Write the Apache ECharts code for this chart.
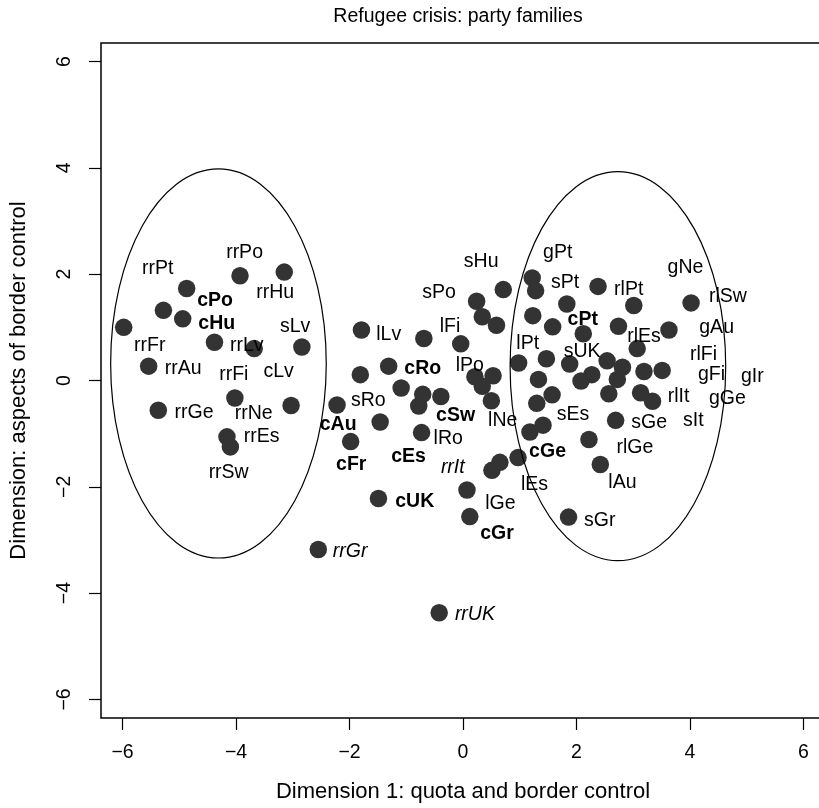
<!DOCTYPE html>
<html>
<head>
<meta charset="utf-8">
<title>Refugee crisis: party families</title>
<script src="https://cdn.jsdelivr.net/npm/echarts@6/dist/echarts.min.js"></script>
<style>
  html, body { margin: 0; padding: 0; background: #ffffff; overflow: hidden; }
  /* the plot box runs slightly past the right edge of the page */
  #chart { width: 840px; height: 808px; }
</style>
</head>
<body>
<div id="chart"></div>
<script>
// Party positions on the two scaling dimensions
const pointX = [
  -3.93, -3.15, -4.87, -5.28, -4.94, -5.98, -4.38, -3.68, -2.84, -5.54,
  -4.02, -3.03, -5.37, -4.16, -4.10,
   0.71,  0.24,  0.34,  0.59, -1.79, -0.69, -0.04, -1.31, -1.81,  0.98,
   0.21,  0.53,  0.34, -1.09, -0.71, -0.39, -0.78,  0.50, -2.22, -1.46,
  -0.73, -1.98,  0.97,  0.65,  0.51, -1.49,  0.07,  0.12, -2.55, -0.42,
   1.22,  1.28,  2.38,  1.83,  3.01,  4.02,  1.23,  1.58,  2.12,  2.74,
   3.63,  3.07,  1.47,  1.88,  2.54,  2.81,  3.19,  3.51,  2.27,  2.08,
   2.72,  1.33,  1.57,  1.30,  2.57,  3.13,  3.34,  2.69,  1.41,  1.18,
   2.22,  2.42,  1.86
];
const pointY = [
   1.97,  2.04,  1.73,  1.32,  1.16,  1.00,  0.72,  0.60,  0.63,  0.27,
  -0.33, -0.47, -0.56, -1.06, -1.25,
   1.71,  1.49,  1.20,  1.04,  0.95,  0.79,  0.69,  0.27,  0.11,  0.33,
   0.07,  0.09, -0.11, -0.14, -0.26, -0.30, -0.48, -0.38, -0.46, -0.78,
  -0.98, -1.15, -1.45, -1.54, -1.69, -2.22, -2.06, -2.56, -3.18, -4.37,
   1.93,  1.69,  1.77,  1.44,  1.41,  1.46,  1.22,  1.01,  0.88,  1.02,
   0.95,  0.60,  0.41,  0.31,  0.37,  0.25,  0.17,  0.19,  0.11, -0.01,
   0.02,  0.02, -0.27, -0.43, -0.25, -0.23, -0.39, -0.75, -0.84, -0.97,
  -1.11, -1.58, -2.57
];

// Party labels (name, position, typeface)
const labelNames = [
  'rrPt', 'rrPo', 'rrHu', 'cPo', 'cHu', 'sLv', 'rrFr', 'rrLv', 'rrAu', 'rrFi',
  'cLv', 'rrGe', 'rrNe', 'rrEs', 'rrSw',
  'sHu', 'sPo', 'lLv', 'lFi', 'lPo', 'cRo', 'sRo', 'cSw', 'lNe', 'cAu',
  'lRo', 'cFr', 'cEs', 'rrIt', 'cUK', 'lGe', 'cGr', 'rrGr', 'rrUK', 'lEs',
  'cGe',
  'gPt', 'sPt', 'rlPt', 'gNe', 'rlSw', 'gAu', 'rlFi', 'gFi', 'gIr', 'gGe',
  'sIt', 'rlIt', 'cPt', 'rlEs', 'lPt', 'sUK', 'sEs', 'sGe', 'rlGe', 'lAu',
  'sGr'
];
const labelX = [
  -5.38, -3.85, -3.31, -4.37, -4.34, -2.96, -5.52, -3.81, -4.93, -4.04,
  -3.25, -4.74, -3.69, -3.55, -4.13,
   0.32, -0.42, -1.31, -0.23,  0.12, -0.71, -1.67, -0.13,  0.70, -2.20,
  -0.26, -1.97, -0.96, -0.18, -0.85,  0.66,  0.60, -1.99,  0.21,  1.26,
   1.49,
   1.67,  1.80,  2.92,  3.92,  4.67,  4.47,  4.24,  4.38,  5.10,  4.66,
   4.06,  3.80,  2.11,  3.19,  1.14,  2.10,  1.94,  3.28,  3.03,  2.81,
   2.41
];
const labelY = [
   2.10,  2.41,  1.65,  1.51,  1.07,  1.01,  0.65,  0.66,  0.22,  0.11,
   0.16, -0.61, -0.63, -1.05, -1.74,
   2.24,  1.65,  0.87,  1.01,  0.28,  0.22, -0.38, -0.66, -0.75, -0.83,
  -1.09, -1.59, -1.44, -1.64, -2.27, -2.31, -2.88, -3.22, -4.41, -1.95,
  -1.33,
   2.41,  1.84,  1.71,  2.12,  1.57,  1.00,  0.48,  0.11,  0.07, -0.34,
  -0.75, -0.30,  1.14,  0.83,  0.69,  0.54, -0.65, -0.79, -1.27, -1.92,
  -2.63
];
const labelFace = [
  'plain', 'plain', 'plain', 'bold', 'bold', 'plain', 'plain', 'plain', 'plain', 'plain',
  'plain', 'plain', 'plain', 'plain', 'plain',
  'plain', 'plain', 'plain', 'plain', 'plain', 'bold', 'plain', 'bold', 'plain', 'bold',
  'plain', 'bold', 'bold', 'italic', 'bold', 'plain', 'bold', 'italic', 'italic', 'plain',
  'bold',
  'plain', 'plain', 'plain', 'plain', 'plain', 'plain', 'plain', 'plain', 'plain', 'plain',
  'plain', 'plain', 'bold', 'plain', 'plain', 'plain', 'plain', 'plain', 'plain', 'plain',
  'plain'
];

// Two group outlines: centre and half-axes in data units
const ellipseCX = [-4.31, 2.73];
const ellipseCY = [0.32, 0.27];
const ellipseRX = [1.90, 1.90];
const ellipseRY = [3.66, 3.66];

const tickValues = [-6, -4, -2, 0, 2, 4, 6];

const FONT = '"Liberation Sans", Arial, Helvetica, sans-serif';
const FONT_SIZE = 19.5;
const NAME_SIZE = 22;
const minusSign = v => String(v).replace('-', '\u2212');

const pointData = pointX.map((x, i) => [x, pointY[i]]);
const labelData = labelNames.map((name, i) => ({
  name: name,
  value: [labelX[i], labelY[i]],
  label: {
    fontWeight: labelFace[i] === 'bold' ? 'bold' : 'normal',
    fontStyle: labelFace[i] === 'italic' ? 'italic' : 'normal'
  }
}));
const ellipseData = ellipseCX.map((cx, i) => [cx, ellipseCY[i], ellipseRX[i], ellipseRY[i]]);

const chart = echarts.init(document.getElementById('chart'), null, { renderer: 'canvas' });

chart.setOption({
  animation: false,
  backgroundColor: '#ffffff',
  textStyle: { fontFamily: FONT },
  grid: {
    left: 97, top: 43, width: 728, height: 675,
    show: true, borderColor: '#000000', borderWidth: 1.5,
    backgroundColor: 'transparent', containLabel: false
  },
  graphic: [{
    type: 'text', x: 458, y: 17,
    style: {
      text: 'Refugee crisis: party families',
      fontFamily: FONT, fontSize: FONT_SIZE, fill: '#000000',
      align: 'center', verticalAlign: 'middle'
    }
  }],
  xAxis: {
    type: 'value', min: -6.38, max: 6.38,
    splitLine: { show: false },
    axisLine: { show: false, onZero: false },
    axisTick: { show: true, length: 12, customValues: tickValues, lineStyle: { color: '#000000', width: 1.2 } },
    axisLabel: {
      customValues: tickValues, formatter: minusSign, margin: 25,
      fontFamily: FONT, fontSize: FONT_SIZE, color: '#000000'
    },
    name: 'Dimension 1: quota and border control',
    nameLocation: 'middle', nameGap: 63,
    nameTextStyle: { fontFamily: FONT, fontSize: NAME_SIZE, color: '#000000' }
  },
  yAxis: {
    type: 'value', min: -6.35, max: 6.35,
    splitLine: { show: false },
    axisLine: { show: false, onZero: false },
    axisTick: { show: true, length: 12, customValues: tickValues, lineStyle: { color: '#000000', width: 1.2 } },
    axisLabel: {
      customValues: tickValues, formatter: minusSign, margin: 26, rotate: 90,
      fontFamily: FONT, fontSize: FONT_SIZE, color: '#000000'
    },
    name: 'Dimension: aspects of border control',
    nameLocation: 'middle', nameGap: 71, nameRotate: 90,
    nameTextStyle: { fontFamily: FONT, fontSize: NAME_SIZE, color: '#000000' }
  },
  series: [
    {
      name: 'parties',
      type: 'scatter',
      data: pointData,
      symbol: 'circle',
      symbolSize: 17.5,
      itemStyle: { color: '#333333', opacity: 1 },
      silent: true,
      z: 2
    },
    {
      name: 'party labels',
      type: 'scatter',
      data: labelData,
      symbol: 'circle',
      symbolSize: 1,
      itemStyle: { color: 'rgba(255,255,255,0)', opacity: 1 },
      label: {
        show: true, position: 'inside', formatter: p => p.name,
        fontFamily: FONT, fontSize: FONT_SIZE, color: '#000000',
        align: 'center', verticalAlign: 'middle'
      },
      labelLayout: { hideOverlap: false },
      silent: true,
      z: 4
    },
    {
      name: 'groups',
      type: 'custom',
      data: ellipseData,
      encode: { x: 0, y: 1 },
      clip: true,
      silent: true,
      z: 3,
      renderItem: (params, api) => {
        const c = api.coord([api.value(0), api.value(1)]);
        const s = api.size([api.value(2), api.value(3)]);
        return {
          type: 'ellipse',
          shape: { cx: c[0], cy: c[1], rx: s[0], ry: s[1] },
          style: { fill: 'none', stroke: '#000000', lineWidth: 1.2 }
        };
      }
    }
  ]
});
</script>
</body>
</html>
